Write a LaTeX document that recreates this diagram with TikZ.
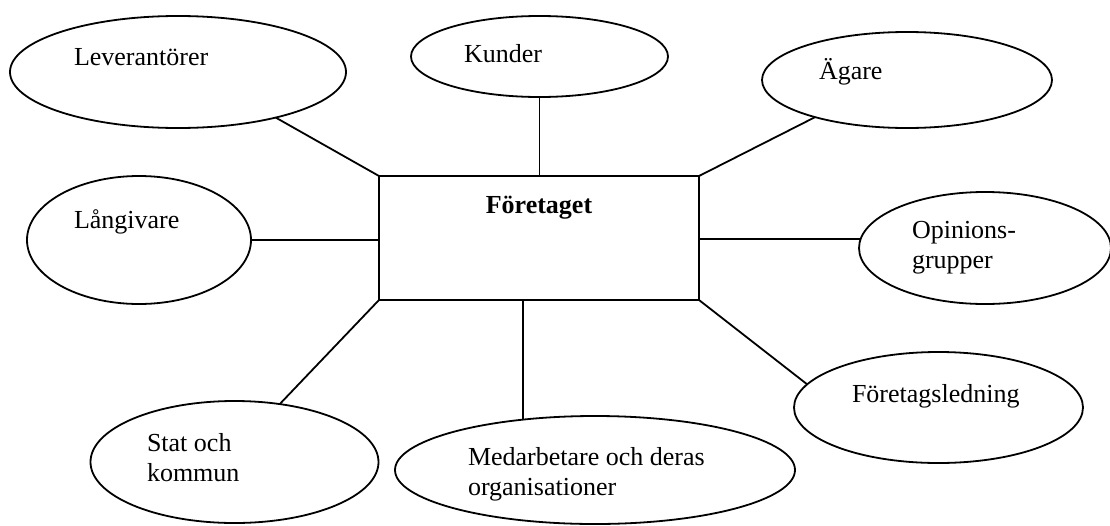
\documentclass[tikz,border=0pt]{standalone}
\usepackage{fontspec}
\setmainfont{Liberation Serif}
\usetikzlibrary{shapes.geometric}
\begin{document}
\begin{tikzpicture}[x=1pt,y=-1pt,
  ell/.style={draw, ellipse, inner sep=0pt, outer sep=0pt, line width=1.8pt},
  box/.style={draw, rectangle, inner sep=0pt, outer sep=0pt, line width=1.8pt},
  lbl/.style={anchor=base west, inner sep=0pt, outer sep=0pt, font=\fontsize{26}{30}\selectfont},
  conn/.style={line width=1.8pt}]
\useasboundingbox (0,0) rectangle (1110,525);

% central box
\node[box, minimum width=320pt, minimum height=124pt] (firm) at (539,238) {};

% ellipses
\node[ell, minimum width=336pt, minimum height=112pt] (lev) at (178,72) {};
\node[ell, minimum width=257pt, minimum height=81pt] (kun) at (539.5,56.5) {};
\node[ell, minimum width=290pt, minimum height=96pt] (aga) at (907,80) {};
\node[ell, minimum width=224pt, minimum height=128pt] (lan) at (139,240) {};
\node[ell, minimum width=252pt, minimum height=112pt] (opi) at (985,248) {};
\node[ell, minimum width=289pt, minimum height=111pt] (led) at (938.5,407.5) {};
\node[ell, minimum width=288pt, minimum height=122pt] (sta) at (234.5,462) {};
\node[ell, minimum width=400pt, minimum height=108pt] (med) at (595,470) {};

% connectors
\draw[conn] (lev.-25) -- (firm.north west);
\draw[conn] (kun.south) -- (kun.south |- firm.north);
\draw[conn] (aga.202) -- (firm.north east);
\draw[conn] (lan.east) -- (lan.east -| firm.west);
\draw[conn] (opi.176) -- (opi.176 -| firm.east);
\draw[conn] (led.170) -- (firm.south east);
\draw[conn] (sta.52) -- (firm.south west);
\draw[conn] (med.145) -- (med.145 |- firm.south);

% labels
\node[lbl] (tlev) at (74,65) {Leverantörer};
\node[lbl] (tkun) at (464,62) {Kunder};
\node[lbl] (taga) at (819,79) {Ägare};
\node[lbl] (tlan) at (74,228) {Långivare};
\node[lbl, anchor=base, font=\fontsize{26}{30}\selectfont\bfseries] (tfirm) at (539,213) {Företaget};
\node[lbl] (topi) at (912,238) {\vtop{\hbox{Opinions-}\hbox{grupper}}};
\node[lbl] (tled) at (852,402) {Företagsledning};
\node[lbl] (tsta) at (147,451) {\vtop{\hbox{Stat och}\hbox{kommun}}};
\node[lbl] (tmed) at (468,465) {\vtop{\hbox{Medarbetare och deras}\hbox{organisationer}}};
\end{tikzpicture}
\end{document}
